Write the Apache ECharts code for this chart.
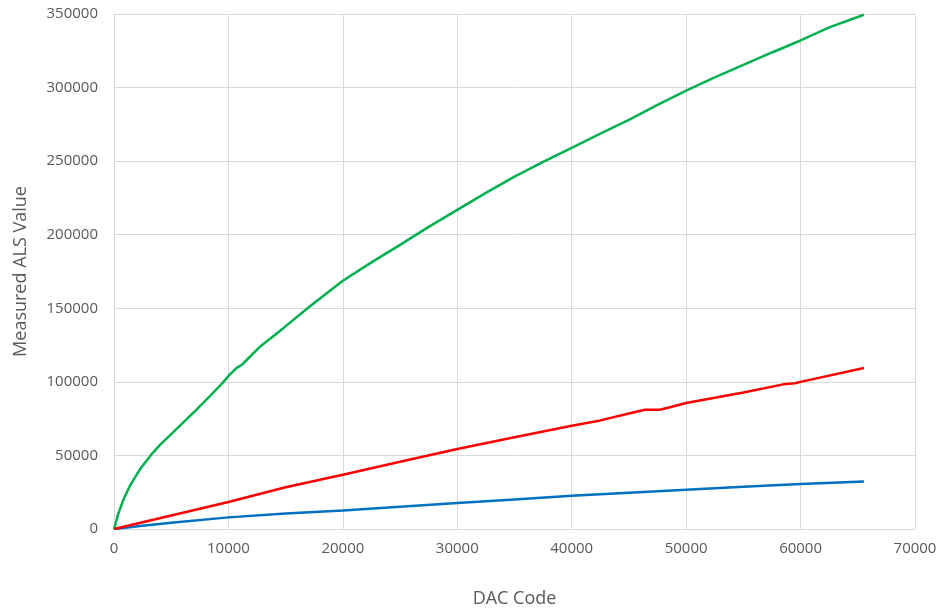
<!DOCTYPE html>
<html>
<head>
<meta charset="utf-8">
<script src="https://cdn.jsdelivr.net/npm/echarts@6/dist/echarts.min.js"></script>
<style>
    html, body { margin: 0; padding: 0; background: #fff; }
    #chart { width: 941px; height: 613px; }
</style>
</head>
<body>
<div id="chart"></div>
<script>
// DAC code samples (x) and measured ALS values per curve
const greenX = [0, 400, 800, 1400, 2300, 3200, 4000, 5000, 6000, 7000, 8400, 9500, 10000, 10700, 11200, 12700, 14800, 17100, 20000, 22500, 25000, 27500, 30000, 32500, 35000, 37500, 40000, 42500, 45000, 47500, 50000, 52500, 55000, 57500, 60000, 62500, 65535];
const greenY = [0, 11000, 19500, 29500, 41000, 50000, 57000, 64500, 72000, 79500, 90500, 99300, 104000, 109300, 111800, 123500, 136500, 151200, 168700, 181200, 193100, 205300, 216900, 228450, 239500, 249500, 259000, 268700, 278000, 288200, 298000, 306900, 315400, 323850, 332000, 340900, 349500];

const redX = [0, 2500, 5000, 10000, 15000, 20000, 25000, 30000, 35000, 40000, 42500, 45000, 46400, 47700, 48500, 50000, 55000, 58500, 59500, 60000, 65535];
const redY = [0, 4600, 9200, 18300, 28400, 36900, 45700, 54350, 62300, 70200, 73800, 78500, 81000, 81000, 82600, 85600, 92800, 98300, 99000, 100000, 109400];

const blueX = [0, 2500, 5000, 10000, 15000, 20000, 25000, 30000, 35000, 40000, 45000, 50000, 55000, 60000, 65535];
const blueY = [0, 2200, 4300, 7900, 10500, 12640, 15200, 17660, 20100, 22600, 24700, 26700, 28700, 30570, 32350];

function pairs(xs, ys) {
    return xs.map(function (x, i) { return [x, ys[i]]; });
}

const textColor = '#595959';
const gridColor = '#d9d9d9';
const font = 'Open Sans';
const plain = function (v) { return String(v); };

const chart = echarts.init(document.getElementById('chart'));
chart.setOption({
    animation: false,
    grid: { left: 114, right: 26, top: 14, bottom: 83 },
    xAxis: {
        type: 'value',
        min: 0, max: 70000, interval: 10000,
        name: 'DAC Code',
        nameLocation: 'middle',
        nameGap: 61,
        nameTextStyle: { color: textColor, fontSize: 18, fontFamily: font },
        axisLine: { show: true, lineStyle: { color: gridColor, width: 1 } },
        axisTick: { show: false },
        axisLabel: { color: textColor, fontSize: 15, fontFamily: font, margin: 12, formatter: plain },
        splitLine: { show: true, lineStyle: { color: gridColor, width: 1 } }
    },
    yAxis: {
        type: 'value',
        min: 0, max: 350000, interval: 50000,
        name: 'Measured ALS Value',
        nameLocation: 'middle',
        nameGap: 84,
        nameTextStyle: { color: textColor, fontSize: 18, fontFamily: font },
        axisLine: { show: true, lineStyle: { color: gridColor, width: 1 } },
        axisTick: { show: false },
        axisLabel: { color: textColor, fontSize: 15, fontFamily: font, margin: 16, formatter: plain },
        splitLine: { show: true, lineStyle: { color: gridColor, width: 1 } }
    },
    series: [{
        type: 'line',
        data: pairs(blueX, blueY),
        showSymbol: false,
        lineStyle: { color: '#0070C0', width: 2.5 }
    }, {
        type: 'line',
        data: pairs(greenX, greenY),
        showSymbol: false,
        lineStyle: { color: '#00B050', width: 2.5 }
    }, {
        type: 'line',
        data: pairs(redX, redY),
        showSymbol: false,
        lineStyle: { color: '#FF0000', width: 2.5 }
    }]
});
</script>
</body>
</html>
